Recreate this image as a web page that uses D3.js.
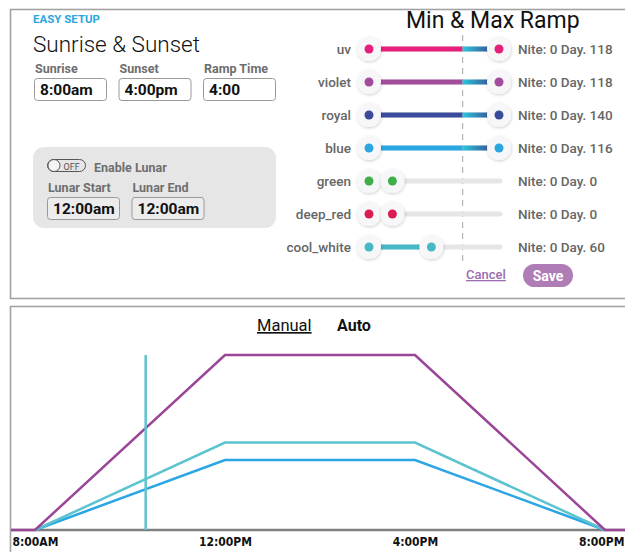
<!DOCTYPE html>
<html>
<head>
<meta charset="utf-8">
<script src="https://cdn.jsdelivr.net/npm/d3@7"></script>
<style>
  body { margin: 0; background: #fff; }
  svg { display: block; }
  text { font-family: Roboto, "Open Sans", sans-serif; }
  .narrow { font-family: "Liberation Sans Narrow", "DejaVu Sans Condensed", sans-serif; }
</style>
</head>
<body>
<script>
// channel sliders
const channels = ['uv', 'violet', 'royal', 'blue', 'green', 'deep_red', 'cool_white']
const niteValues = [0, 0, 0, 0, 0, 0, 0]
const dayValues = [118, 118, 140, 116, 0, 0, 60]
const sliderLow = [0, 0, 0, 0, 0, 0, 0]
const sliderHigh = [100, 100, 100, 100, 18, 18, 48]
const rampMark = 72

// schedule inputs
const scheduleLabels = ['Sunrise', 'Sunset', 'Ramp Time']
const scheduleValues = ['8:00am', '4:00pm', '4:00']
const lunarLabels = ['Lunar Start', 'Lunar End']
const lunarValues = ['12:00am', '12:00am']

// ramp chart
const hours = [8, 12, 16, 20]
const tickLabels = ['8:00AM', '12:00PM', '4:00PM', '8:00PM']
const violetLevel = [0, 100, 100, 0]
const coolWhiteLevel = [0, 50, 50, 0]
const blueLevel = [0, 40, 40, 0]
const nowHour = 10.33

function draw() {
  let width = 625
  let height = 552

  let color = d3.scaleOrdinal()
      .domain(channels)
      .range(['#e61f7d', '#a24d9c', '#3a4b9e', '#2aa7e1', '#3eae48', '#dc1c50', '#47b8c6'])

  const svg = d3.create('svg')
      .attr('width', width)
      .attr('height', height)
      .attr('viewBox', [0, 0, width, height])

  let defs = svg.append('defs')
  defs.append('filter')
      .attr('id', 'shadow')
      .attr('x', '-50%').attr('y', '-50%')
      .attr('width', '200%').attr('height', '200%')
    .append('feDropShadow')
      .attr('dx', 0.5).attr('dy', 1)
      .attr('stdDeviation', 1.5)
      .attr('flood-color', '#000')
      .attr('flood-opacity', 0.2)
  let grad = defs.append('linearGradient').attr('id', 'ramp')
  grad.append('stop').attr('offset', 0).attr('stop-color', '#2cc6da')
  grad.append('stop').attr('offset', 1).attr('stop-color', '#3a3185')

  // panels
  svg.append('rect')
      .attr('x', 10.5).attr('y', 9.5)
      .attr('width', 640).attr('height', 289)
      .attr('fill', 'none').attr('stroke', '#a3a3a3').attr('stroke-width', 1.6)
  svg.append('rect')
      .attr('x', 10.5).attr('y', 306.5)
      .attr('width', 640).attr('height', 300)
      .attr('fill', 'none').attr('stroke', '#a3a3a3').attr('stroke-width', 1.6)

  // ---- left: sunrise & sunset
  svg.append('text')
      .text('EASY SETUP')
      .attr('x', 33).attr('y', 23)
      .attr('fill', '#2ba6de')
      .style('font-size', '11.5px').style('font-weight', 700)

  svg.append('text')
      .text('Sunrise & Sunset')
      .attr('x', 33).attr('y', 52)
      .attr('fill', '#111')
      .style('font-size', '22.5px').style('font-weight', 300)

  function inputBox(g, x, y, w, label, value, labelColor) {
    g.append('text')
        .text(label)
        .attr('x', x + 1).attr('y', y - 5)
        .attr('fill', labelColor)
        .style('font-size', '12.5px').style('font-weight', 700)
    g.append('rect')
        .attr('class', 'box')
        .attr('x', x + 0.5).attr('y', y + 0.5)
        .attr('width', w).attr('height', 22)
        .attr('rx', 3)
        .attr('fill', '#fff').attr('stroke', '#9a9a9a')
    g.append('text')
        .text(value)
        .attr('x', x + 6).attr('y', y + 16.5)
        .attr('fill', '#111')
        .style('font-size', '15.5px').style('font-weight', 700)
  }

  let left = svg.append('g')
  scheduleLabels.forEach((l, i) => inputBox(left, 34 + i * 84.5, 78, 72, l, scheduleValues[i], '#6e6e6e'))

  left.append('rect')
      .attr('x', 33).attr('y', 147)
      .attr('width', 243).attr('height', 81)
      .attr('rx', 11)
      .attr('fill', '#e6e6e6')

  // toggle
  left.append('rect')
      .attr('x', 47.5).attr('y', 159.5)
      .attr('width', 38).attr('height', 12)
      .attr('rx', 6)
      .attr('fill', 'none').attr('stroke', '#555').attr('stroke-width', 1)
  left.append('circle')
      .attr('cx', 54).attr('cy', 165.5).attr('r', 6)
      .attr('fill', '#f4f4f4').attr('stroke', '#555')
  left.append('text')
      .text('OFF')
      .attr('x', 63.5).attr('y', 169.5)
      .attr('fill', '#555')
      .style('font-size', '9px')
  left.append('text')
      .text('Enable Lunar')
      .attr('x', 94).attr('y', 171.5)
      .attr('fill', '#6e6e6e')
      .style('font-size', '12.5px').style('font-weight', 700)

  let lunar = left.append('g')
  lunarLabels.forEach((l, i) => inputBox(lunar, 47 + i * 84.5, 197, 72, l, lunarValues[i], '#6e6e6e'))
  lunar.selectAll('rect.box').attr('fill', '#ececec')

  // ---- right: min & max ramp
  let right = svg.append('g')

  right.append('text')
      .text('Min & Max Ramp')
      .attr('x', 406).attr('y', 28)
      .attr('fill', '#111')
      .style('font-size', '23px')

  let sx = d3.scaleLinear()
      .domain([0, 100])
      .range([369, 499])

  let sy = d3.scalePoint()
      .domain(channels)
      .range([49, 247])

  right.append('line')
      .attr('x1', sx(rampMark)).attr('x2', sx(rampMark))
      .attr('y1', 35).attr('y2', 262)
      .attr('stroke', '#b5b5b5')
      .attr('stroke-width', 1.2)
      .attr('stroke-dasharray', '6,5')

  let rows = right.selectAll('g.row')
    .data(channels.map((c, i) => ({
      name: c, lo: sliderLow[i], hi: sliderHigh[i], nite: niteValues[i], day: dayValues[i]
    })))
    .join('g')
      .attr('class', 'row')
      .attr('transform', d => `translate(0,${sy(d.name)})`)

  rows.append('text')
      .text(d => d.name)
      .attr('x', 351).attr('dy', '0.35em')
      .attr('text-anchor', 'end')
      .attr('fill', '#666')
      .style('font-size', '13.5px').style('font-weight', 500)

  rows.append('line')
      .attr('x1', sx(0)).attr('x2', sx(100) + 1)
      .attr('stroke', '#e6e6e6')
      .attr('stroke-width', 5)
      .attr('stroke-linecap', 'round')

  rows.append('line')
      .attr('x1', d => sx(d.lo))
      .attr('x2', d => sx(Math.min(d.hi, rampMark)))
      .attr('stroke', d => color(d.name))
      .attr('stroke-width', 5)

  rows.filter(d => d.hi > rampMark)
    .append('rect')
      .attr('x', sx(rampMark))
      .attr('y', -2.5)
      .attr('width', d => sx(d.hi) - sx(rampMark))
      .attr('height', 5)
      .attr('fill', 'url(#ramp)')

  rows.selectAll('g.handle')
    .data(d => [d.lo, d.hi].map(v => ({ v, name: d.name })))
    .join('g')
      .attr('class', 'handle')
      .attr('transform', d => `translate(${sx(d.v)},0)`)
      .call(g => g.append('circle')
          .attr('r', 12)
          .attr('fill', '#f7f7f9')
          .attr('filter', 'url(#shadow)'))
      .call(g => g.append('circle')
          .attr('r', 4.5)
          .attr('fill', d => color(d.name)))

  rows.append('text')
      .text(d => `Nite: ${d.nite} Day. ${d.day}`)
      .attr('x', 518).attr('dy', '0.35em')
      .attr('fill', '#666')
      .style('font-size', '13.5px').style('font-weight', 500)

  right.append('text')
      .text('Cancel')
      .attr('x', 466).attr('y', 279)
      .attr('fill', '#9b6cb1')
      .style('font-size', '13px').style('font-weight', 500)
      .style('text-decoration', 'underline')

  right.append('rect')
      .attr('x', 523).attr('y', 264)
      .attr('width', 50).attr('height', 23)
      .attr('rx', 11.5)
      .attr('fill', '#b07cb6')
  right.append('text')
      .text('Save')
      .attr('x', 548).attr('y', 280.5)
      .attr('text-anchor', 'middle')
      .attr('fill', '#fff')
      .style('font-size', '14px').style('font-weight', 700)

  // ---- bottom: ramp chart
  let chart = svg.append('g')

  chart.append('text')
      .text('Manual')
      .attr('x', 257).attr('y', 331)
      .attr('fill', '#111')
      .style('font-size', '16.5px')
      .style('text-decoration', 'underline')
  chart.append('text')
      .text('Auto')
      .attr('x', 337).attr('y', 331)
      .attr('fill', '#111')
      .style('font-size', '16px').style('font-weight', 700)

  let x = d3.scaleLinear()
      .domain([8, 20])
      .range([35, 605])

  let y = d3.scaleLinear()
      .domain([0, 100])
      .range([530, 355])

  let xAxis = g => g
      .attr('transform', `translate(0,${y(0)})`)
      .call(d3.axisBottom(x).tickValues(hours).tickFormat((d, i) => tickLabels[i]).tickSize(0).tickPadding(7))
      .call(g => g.select('.domain').remove())
      .call(g => g.selectAll('text')
          .attr('class', 'narrow')
          .attr('fill', '#111')
          .style('font-size', '12px')
          .style('font-weight', 700))
      // keep the last label inside the page
      .call(g => g.selectAll('.tick text')
          .filter(d => d === hours[hours.length - 1])
          .attr('text-anchor', 'end')
          .attr('x', width - 1 - x(hours[hours.length - 1])))

  chart.append('line')
      .attr('x1', 11).attr('x2', width)
      .attr('y1', y(0)).attr('y2', y(0))
      .attr('stroke', '#7f7f7f')
      .attr('stroke-width', 2.5)

  let line = d3.line()
      .x(d => x(d[0]))
      .y(d => y(d[1]))

  let series = [
    { name: 'blue', pts: hours.map((h, i) => [h, blueLevel[i]]) },
    { name: 'cool_white', pts: hours.map((h, i) => [h, coolWhiteLevel[i]]) },
    { name: 'violet', pts: [[x.invert(11), 0], ...hours.map((h, i) => [h, violetLevel[i]]), [x.invert(width), 0]] }
  ]

  chart.append('g')
    .selectAll('path')
    .data(series)
    .join('path')
      .attr('d', d => line(d.pts))
      .attr('fill', 'none')
      .attr('stroke', d => ({ blue: '#2aa6e4', cool_white: '#5cc3cf', violet: '#9b4598' })[d.name])
      .attr('stroke-width', 2.5)

  chart.append('line')
      .attr('x1', x(nowHour)).attr('x2', x(nowHour))
      .attr('y1', y(0)).attr('y2', y(100))
      .attr('stroke', '#5cc3cf')
      .attr('stroke-width', 2.5)

  chart.append('g')
      .call(xAxis)

  return svg.node()
}

document.body.appendChild(draw())
</script>
</body>
</html>
